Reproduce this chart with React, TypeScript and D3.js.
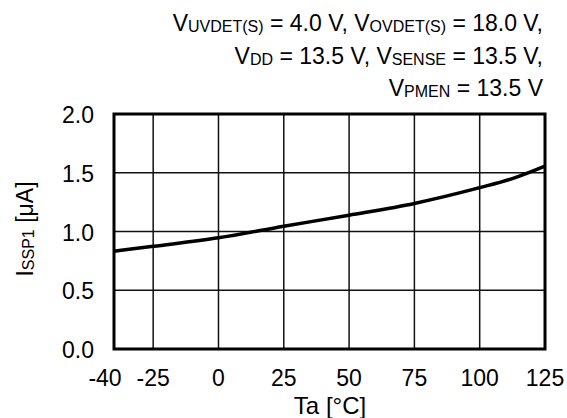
import React from "react";
import * as d3 from "d3";

const temps = [-40, -25, 0, 25, 50, 75, 100, 112.5, 125];
const current = [0.832, 0.874, 0.946, 1.045, 1.139, 1.239, 1.373, 1.45, 1.556];
const xTicks = [-40, -25, 0, 25, 50, 75, 100, 125];
const yTicks = [0.0, 0.5, 1.0, 1.5, 2.0];

type Seg = [string, boolean];
const titleLines: Seg[][] = [
  [["V", false], ["UVDET(S)", true], [" = 4.0 V, V", false], ["OVDET(S)", true], [" = 18.0 V,", false]],
  [["V", false], ["DD", true], [" = 13.5 V, V", false], ["SENSE", true], [" = 13.5 V,", false]],
  [["V", false], ["PMEN", true], [" = 13.5 V", false]],
];

const W = 567;
const H = 418;
const m = { left: 114, right: 545, top: 114, bottom: 349 };
const FONT = "'Liberation Sans', Arial, Helvetica, sans-serif";
const FS = 23;
const SUB = 16;

export default function App() {
  const x = d3.scaleLinear().domain([-40, 125]).range([m.left, m.right]);
  const y = d3.scaleLinear().domain([0, 2]).range([m.bottom, m.top]);
  const line = d3
    .line<number>()
    .x((_, i) => x(temps[i]))
    .y((d) => y(d))
    .curve(d3.curveMonotoneX);

  const renderSegs = (segs: Seg[]) => {
    const out: React.ReactNode[] = [];
    let shifted = false;
    segs.forEach(([t, sub], i) => {
      let dy = 0;
      if (sub && !shifted) { dy = 1; shifted = true; }
      else if (!sub && shifted) { dy = -1; shifted = false; }
      out.push(
        <tspan key={i} fontSize={sub ? SUB : FS} dy={dy}>
          {t}
        </tspan>
      );
    });
    return out;
  };

  return (
    <svg
      width={W}
      height={H}
      style={{ position: "absolute", left: 0, top: 0, background: "#fff" }}
      fontFamily={FONT}
    >
      <rect x={0} y={0} width={W} height={H} fill="#fff" />
      {titleLines.map((segs, i) => (
        <text key={i} x={543} y={31 + i * 32.5} textAnchor="end" fontSize={FS} fill="#000">
          {renderSegs(segs)}
        </text>
      ))}
      {xTicks.slice(1, -1).map((t) => (
        <line key={"gx" + t} x1={x(t)} x2={x(t)} y1={m.top} y2={m.bottom} stroke="#111" strokeWidth={1.5} />
      ))}
      {yTicks.slice(1, -1).map((t) => (
        <line key={"gy" + t} x1={m.left} x2={m.right} y1={y(t)} y2={y(t)} stroke="#111" strokeWidth={1.5} />
      ))}
      <path d={line(current) || ""} fill="none" stroke="#000" strokeWidth={3.5} />
      <rect
        x={m.left}
        y={m.top}
        width={m.right - m.left}
        height={m.bottom - m.top}
        fill="none"
        stroke="#000"
        strokeWidth={3}
      />
      {yTicks.map((t) => (
        <text key={"yl" + t} x={94} y={y(t) + 9} textAnchor="end" fontSize={FS} fill="#000">
          {t.toFixed(1)}
        </text>
      ))}
      {xTicks.map((t, i) => (
        <text
          key={"xl" + t}
          x={x(t) + (i === 0 ? -9 : 0)}
          y={386}
          textAnchor="middle"
          fontSize={FS}
          fill="#000"
        >
          {t}
        </text>
      ))}
      <text x={330} y={414} textAnchor="middle" fontSize={24} fill="#000">
        Ta [°C]
      </text>
      <text transform={`translate(33,229) rotate(-90)`} textAnchor="middle" fontSize={FS} fill="#000">
        <tspan>I</tspan>
        <tspan fontSize={SUB} dy={1}>SSP1</tspan>
        <tspan dy={-1}> [μA]</tspan>
      </text>
    </svg>
  );
}
